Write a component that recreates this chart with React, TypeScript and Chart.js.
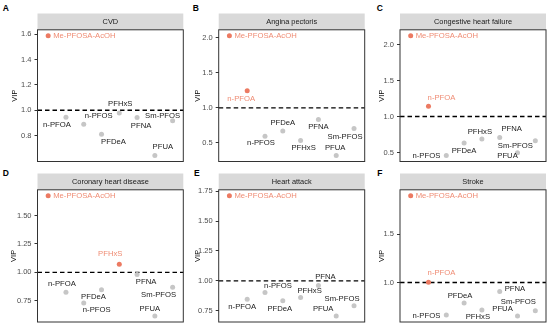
import React, { useEffect, useRef } from "react";
import { Chart, registerables } from "chart.js";

Chart.register(...registerables);

// ---------- data ----------
const compounds = ["Me-PFOSA-AcOH", "n-PFOA", "n-PFOS", "PFDeA", "PFHxS", "PFNA", "PFUA", "Sm-PFOS"];
const panelTitles = ["CVD", "Angina pectoris", "Congestive heart failure", "Coronary heart disease", "Heart attack", "Stroke"];
const panelLetters = ["A", "B", "C", "D", "E", "F"];

const vipCVD = [1.587, 0.945, 0.89, 0.811, 0.979, 0.942, 0.643, 0.918];
const vipAngina = [2.029, 1.243, 0.596, 0.671, 0.534, 0.834, 0.32, 0.706];
const vipCHF = [2.12, 1.142, 0.46, 0.635, 0.69, 0.71, 0.497, 0.663];
const vipCoronary = [1.674, 0.826, 0.731, 0.847, 1.071, 0.982, 0.616, 0.87];
const vipHeartAttack = [1.711, 0.845, 0.902, 0.834, 0.86, 0.96, 0.706, 0.792];
const vipStroke = [1.9, 1.003, 0.664, 0.789, 0.716, 0.906, 0.653, 0.708];

const ticksCVD = [0.8, 1.0, 1.2, 1.4, 1.6];
const ticksAngina = [0.5, 1.0, 1.5, 2.0];
const ticksCHF = [0.5, 1.0, 1.5, 2.0];
const ticksCoronary = [0.75, 1.0, 1.25, 1.5];
const ticksHeartAttack = [0.75, 1.0, 1.25, 1.5, 1.75];
const ticksStroke = [1.0, 1.5];
const tickDecimals = [1, 1, 1, 2, 2, 1];

const threshold = 1.0;

// ---------- layout / style ----------
const FONT = "'Liberation Sans', Arial, Helvetica, sans-serif";
const HIGHLIGHT = "#EC7A62";
const HIGHLIGHT_TEXT = "#EF8C74";
const GREY_POINT = "#C6C6C6";

type LabelPos = [number, number, "l" | "c" | "r"];
const labelPlacements: LabelPos[][] = [
  [[5, 0.5, "l"], [-9, 8, "c"], [15, -8, "c"], [12, 7.5, "c"], [1, -9, "c"], [4, 8, "c"], [8, -9, "c"], [-10, -5, "c"]],
  [[5, 0.5, "l"], [-6, 8, "c"], [-4, 7, "c"], [0, -8, "c"], [3, 7, "c"], [0, 7, "c"], [-1, -8, "c"], [-9, 8, "c"]],
  [[5, 0.5, "l"], [13, -8, "c"], [-6, 0.5, "r"], [0, 8, "c"], [-2, -7, "c"], [12, -9, "c"], [-10, 3, "c"], [-20, 5, "c"]],
  [[5, 0.5, "l"], [-4, -8, "c"], [13, 7, "c"], [-8, 7, "c"], [-9, -10, "c"], [9, 7, "c"], [-5, -7, "c"], [-14, 8, "c"]],
  [[5, 0.5, "l"], [-5, 8, "c"], [13, -7, "c"], [-3, 8, "c"], [9, -7, "c"], [7, -9, "c"], [-13, -7, "c"], [-12, -7, "c"]],
  [[5, 0.5, "l"], [13, -9, "c"], [-6, 0.5, "r"], [-4, -7, "c"], [-4, 7, "c"], [5, -3, "l"], [-15, -7, "c"], [-17, -9, "c"]],
];

const colLeft = [37.5, 218.7, 400];
const colRight = [183.3, 364.7, 546.5];
const rowStripTop = [13.5, 173.5];
const rowBoxTop = [29.8, 189.8];
const rowBoxBottom = [161.5, 322];
const vipTitleX = [14.5, 198.3, 381.7, 13.5, 198.3, 382.3];
const letterX = [2.7, 192.7, 376.7, 2.7, 194, 377.3];
const letterY = [3.6, 3.6, 3.6, 169.2, 169.2, 169.2];

const W = 550;
const H = 326;

const panelValues = [vipCVD, vipAngina, vipCHF, vipCoronary, vipHeartAttack, vipStroke];
const panelTicks = [ticksCVD, ticksAngina, ticksCHF, ticksCoronary, ticksHeartAttack, ticksStroke];

function makeChart(canvas: HTMLCanvasElement, p: number) {
  const values = panelValues[p];
  const col = p % 3;
  const row = Math.floor(p / 3);
  const boxLeft = colLeft[col];
  const boxRight = colRight[col];
  const boxTop = rowBoxTop[row];
  const boxBottom = rowBoxBottom[row];
  const stripTop = rowStripTop[row];
  const titleSize = 7.5;
  const titleLH = titleSize * 1.2;
  const axisWidth = boxLeft - vipTitleX[p] + titleLH / 2;

  const vmin = Math.min(...values);
  const vmax = Math.max(...values);
  const span = vmax - vmin;

  const points = values.map((v, i) => ({ x: i + 1, y: v }));
  const colors = values.map((v) => (v > threshold ? HIGHLIGHT : GREY_POINT));

  const panelPlugin = {
    id: "panelDecor" + p,
    beforeDraw(chart: any) {
      const ctx = chart.ctx;
      const ca = chart.chartArea;
      ctx.save();
      ctx.fillStyle = "#D9D9D9";
      ctx.fillRect(ca.left, stripTop, ca.right - ca.left, ca.top - stripTop);
      ctx.fillStyle = "#1A1A1A";
      ctx.font = `7.4px ${FONT}`;
      ctx.textAlign = "center";
      ctx.textBaseline = "middle";
      ctx.fillText(panelTitles[p], (ca.left + ca.right) / 2, (stripTop + ca.top) / 2 + 0.5);
      ctx.restore();
    },
    beforeDatasetsDraw(chart: any) {
      const ctx = chart.ctx;
      const ca = chart.chartArea;
      const y = chart.scales.y.getPixelForValue(threshold);
      ctx.save();
      ctx.strokeStyle = "#000";
      ctx.lineWidth = 1.4;
      ctx.setLineDash([4.5, 3]);
      ctx.beginPath();
      ctx.moveTo(ca.left, y);
      ctx.lineTo(ca.right, y);
      ctx.stroke();
      ctx.restore();
    },
    afterDatasetsDraw(chart: any) {
      const ctx = chart.ctx;
      const ca = chart.chartArea;
      const meta = chart.getDatasetMeta(0);
      ctx.save();
      ctx.font = `7.7px ${FONT}`;
      ctx.textBaseline = "middle";
      meta.data.forEach((el: any, i: number) => {
        const [dx, dy, al] = labelPlacements[p][i];
        ctx.fillStyle = values[i] > threshold ? HIGHLIGHT_TEXT : "#1A1A1A";
        ctx.textAlign = al === "l" ? "left" : al === "r" ? "right" : "center";
        ctx.fillText(compounds[i], el.x + dx, el.y + dy);
      });
      ctx.strokeStyle = "#333333";
      ctx.lineWidth = 1;
      ctx.strokeRect(ca.left, ca.top, ca.right - ca.left, ca.bottom - ca.top);
      ctx.restore();
    },
  };

  return new Chart(canvas, {
    type: "scatter",
    data: {
      datasets: [
        {
          data: points,
          pointRadius: 2.5,
          pointBackgroundColor: colors,
          pointBorderColor: colors,
          pointBorderWidth: 0,
        },
      ],
    },
    options: {
      animation: false,
      responsive: false,
      devicePixelRatio: 1,
      events: [],
      layout: {
        padding: {
          left: boxLeft - axisWidth,
          top: boxTop,
          right: W - boxRight,
          bottom: H - boxBottom,
        },
      },
      plugins: { legend: { display: false }, tooltip: { enabled: false } },
      scales: {
        x: { type: "linear", min: 0.4, max: 8.6, display: false },
        y: {
          type: "linear",
          min: vmin - 0.05 * span,
          max: vmax + 0.05 * span,
          afterBuildTicks: (s: any) => {
            s.ticks = panelTicks[p].map((v) => ({ value: v }));
          },
          afterFit: (s: any) => {
            s.width = axisWidth;
            s.paddingTop = 0;
            s.paddingBottom = 0;
          },
          ticks: {
            autoSkip: false,
            padding: 3,
            color: "#4D4D4D",
            font: { family: FONT, size: 7.5 },
            callback: (v: any) => Number(v).toFixed(tickDecimals[p]),
          },
          grid: {
            drawOnChartArea: false,
            drawTicks: true,
            tickLength: 3,
            color: "#333333",
            tickColor: "#333333",
          },
          border: { display: false },
          title: {
            display: true,
            text: "VIP",
            color: "#000",
            padding: 0,
            font: { family: FONT, size: titleSize },
          },
        },
      },
    } as any,
    plugins: [panelPlugin],
  });
}

function Panel({ index }: { index: number }) {
  const ref = useRef<HTMLCanvasElement | null>(null);
  useEffect(() => {
    if (!ref.current) return;
    const c = makeChart(ref.current, index);
    return () => c.destroy();
  }, [index]);
  return (
    <canvas
      ref={ref}
      width={W}
      height={H}
      style={{ position: "absolute", left: 0, top: 0, width: W, height: H }}
    />
  );
}

export default function App() {
  return (
    <div
      style={{
        position: "absolute",
        left: 0,
        top: 0,
        width: W,
        height: H,
        overflow: "hidden",
        background: "#fff",
      }}
    >
      {panelLetters.map((l, i) => (
        <div
          key={l}
          style={{
            position: "absolute",
            left: letterX[i],
            top: letterY[i],
            fontFamily: FONT,
            fontWeight: "bold",
            fontSize: "8.5px",
            lineHeight: "8.5px",
            color: "#000",
          }}
        >
          {l}
        </div>
      ))}
      {[0, 1, 2, 3, 4, 5].map((i) => (
        <Panel key={i} index={i} />
      ))}
    </div>
  );
}
